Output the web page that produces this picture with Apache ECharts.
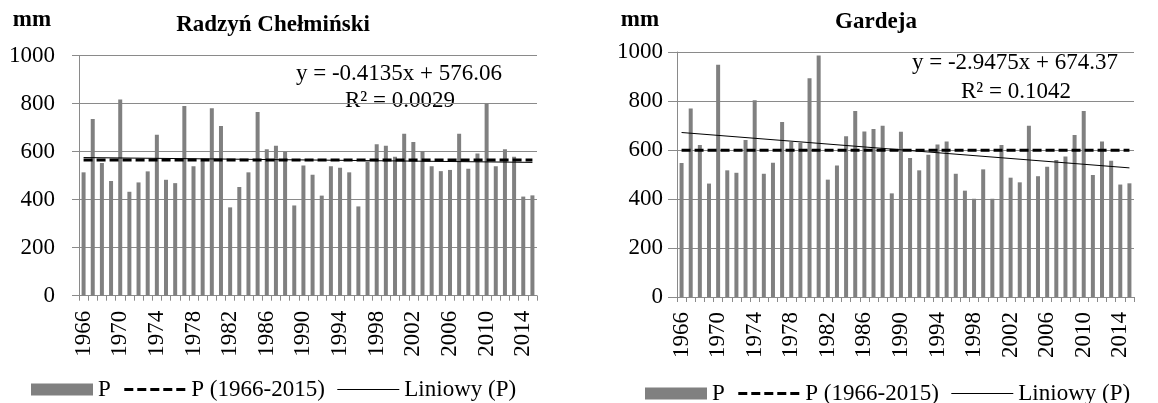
<!DOCTYPE html>
<html>
<head>
<meta charset="utf-8">
<script src="https://cdn.jsdelivr.net/npm/echarts@6/dist/echarts.min.js"></script>
<style>html,body{margin:0;padding:0;background:#fff}#c{width:1158px;height:403px}</style>
</head>
<body>
<div id="c"></div>
<script>
const years = [];
for (let y = 1966; y <= 2015; y++) years.push(String(y));

const radzynP = [514,736,553,478,817,433,472,518,671,483,469,790,539,561,781,707,368,453,514,765,
  610,625,601,376,543,504,417,539,533,514,372,560,631,625,579,675,640,603,539,519,
  524,675,529,593,801,539,610,579,413,418];
const gardejaP = [547,769,620,463,948,517,507,641,803,503,548,714,633,630,893,986,479,537,656,759,
  676,686,699,423,675,567,517,581,622,635,503,434,401,521,401,620,487,468,699,493,
  532,559,573,661,759,498,635,556,459,464];

const radzynMean = 565.5;
const gardejaMean = 599.2;
const radzynTrendEnds = [575.6, 555.4];
const gardejaTrendEnds = [671.4, 527.0];

const radzynEq = ['y = -0.4135x + 576.06', 'R\u00B2 = 0.0029'];
const gardejaEq = ['y = -2.9475x + 674.37', 'R\u00B2 = 0.1042'];
const titles = ['Radzyń Chełmiński', 'Gardeja'];
const unit = 'mm';
const names = ['P', 'P (1966-2015)', 'Liniowy (P)'];

function flat(v) { return years.map(() => v); }
function ends(a) { return years.map((_, i) => i === 0 ? a[0] : (i === years.length - 1 ? a[1] : null)); }

const FONT = 'Liberation Serif';
const GRID_COL = '#8a8a8a';
const BAR_COL = '#808080';

function xAxis(gi) {
  return {
    type: 'category', gridIndex: gi, data: years, boundaryGap: true,
    axisLine: { lineStyle: { color: GRID_COL, width: 1 } },
    axisTick: { show: true, interval: 0, length: 5, alignWithLabel: false, lineStyle: { color: GRID_COL } },
    axisLabel: { interval: 3, rotate: 90, margin: 15, color: '#000', fontFamily: FONT, fontSize: 23 }
  };
}
function yAxis(gi, margin, tickLen) {
  return {
    type: 'value', gridIndex: gi, min: 0, max: 1000, interval: 200,
    axisLine: { show: true, lineStyle: { color: GRID_COL } },
    axisTick: { show: true, length: tickLen, lineStyle: { color: GRID_COL } },
    axisLabel: { margin: margin, color: '#000', fontFamily: FONT, fontSize: 23, formatter: v => String(v) },
    splitLine: { lineStyle: { color: GRID_COL, width: 1 } }
  };
}
function seriesFor(gi, P, mean, tr) {
  return [
    { name: names[0], type: 'bar', xAxisIndex: gi, yAxisIndex: gi, data: P, barWidth: 4,
      itemStyle: { color: BAR_COL } },
    { name: names[2], type: 'line', xAxisIndex: gi, yAxisIndex: gi, data: ends(tr), connectNulls: true,
      symbol: 'none', itemStyle: { color: '#000' }, lineStyle: { color: '#000', width: 1 } },
    { name: names[1], type: 'line', xAxisIndex: gi, yAxisIndex: gi, data: flat(mean),
      symbol: 'none', itemStyle: { color: '#000' }, lineStyle: { color: '#000', width: 3, type: [9, 4] } }
  ];
}
function legend(left, top) {
  return {
    left: left, top: top, itemWidth: 62, itemHeight: 12, itemGap: 12,
    data: [{ name: names[0], icon: 'rect' },
           { name: names[1], itemStyle: { opacity: 0 }, lineStyle: { color: '#000', width: 3, type: [9, 4] } },
           { name: names[2], itemStyle: { opacity: 0 }, lineStyle: { color: '#000', width: 1 } }],
    textStyle: { fontFamily: FONT, fontSize: 23, color: '#000' }
  };
}
function txt(x, y, s, bold) {
  return { type: 'text', x: x, y: y, style: { text: s, fill: '#000', font: (bold ? 'bold ' : '') + '23px "' + FONT + '"',
    textAlign: 'center', textVerticalAlign: 'middle' } };
}

const chart = echarts.init(document.getElementById('c'), null, { renderer: 'canvas' });
chart.setOption({
  animation: false,
  backgroundColor: '#fff',
  grid: [
    { left: 79, right: 621, top: 55.7, bottom: 107.3 },
    { left: 677, right: 24, top: 52, bottom: 106 }
  ],
  xAxis: [xAxis(0), xAxis(1)],
  yAxis: [yAxis(0, 24, 7), yAxis(1, 14, 9)],
  legend: [legend(26, 373), legend(640, 377)],
  series: [].concat(seriesFor(0, radzynP, radzynMean, radzynTrendEnds), seriesFor(1, gardejaP, gardejaMean, gardejaTrendEnds)),
  graphic: [
    txt(32, 20, unit, true), txt(273, 25, titles[0], true),
    txt(640, 20, unit, true), txt(876, 22, titles[1], true),
    txt(399, 74, radzynEq[0], false), txt(400, 101, radzynEq[1], false),
    txt(1015, 63, gardejaEq[0], false), txt(1016, 92, gardejaEq[1], false)
  ]
});
</script>
</body>
</html>
